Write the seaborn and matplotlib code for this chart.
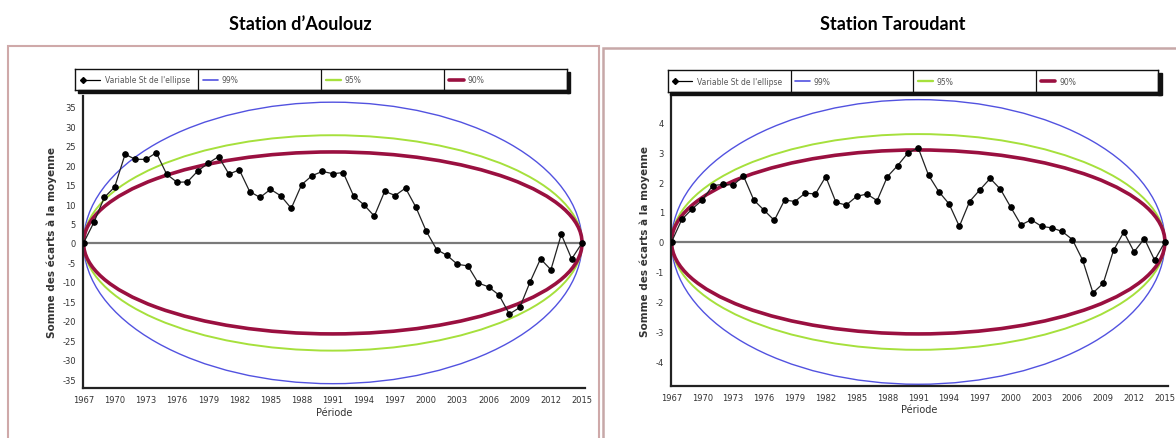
import numpy as np
import pandas as pd
import matplotlib
matplotlib.use("Agg")
import matplotlib.pyplot as plt
from matplotlib.patches import Ellipse, Rectangle
from matplotlib.lines import Line2D
import seaborn as sns

# -------------------- Data -------------------- #
years = list(range(1967, 2016))

# Somme des écarts à la moyenne (variable St de l'ellipse de Bois)
aoulouz = [0, 5.3, 11.7, 14.4, 22.8, 21.5, 21.5, 23.2, 17.7, 15.6,
           15.7, 18.5, 20.5, 22.2, 17.7, 18.8, 13.2, 11.7, 13.8, 12.1,
           8.9, 15.0, 17.3, 18.4, 17.8, 18.1, 12.1, 9.8, 6.9, 13.3,
           12.2, 14.1, 9.2, 3.0, -1.7, -3.2, -5.5, -5.9, -10.3, -11.3,
           -13.4, -18.3, -16.6, -10.0, -4.1, -6.9, 2.2, -4.1, 0]

taroudant = [0, 0.75, 1.1, 1.4, 1.88, 1.92, 1.9, 2.2, 1.4, 1.06,
             0.72, 1.4, 1.35, 1.63, 1.6, 2.18, 1.32, 1.23, 1.52, 1.6,
             1.38, 2.18, 2.55, 2.97, 3.14, 2.23, 1.68, 1.27, 0.52, 1.35,
             1.74, 2.12, 1.76, 1.16, 0.57, 0.74, 0.52, 0.47, 0.35, 0.08,
             -0.61, -1.7, -1.38, -0.28, 0.33, -0.33, 0.11, -0.61, 0]

# demi-axes des ellipses de contrôle (99%, 95%, 90%)
levels = ['99%', '95%', '90%']
aoulouz_semi = [36.2, 27.7, 23.4]
taroudant_semi = [4.75, 3.6, 3.07]

titles = ["Station d\u2019Aoulouz", "Station Taroudant"]
series_label = "Variable St de l'ellipse"

# -------------------- Style -------------------- #
sns.set_style("white")
plt.rcParams['font.family'] = ['DejaVu Sans']

level_colors = {'99%': '#5252e0', '95%': '#a6e03c', '90%': '#9a1040'}
level_widths = {'99%': 1.0, '95%': 1.4, '90%': 2.6}

fig = plt.figure(figsize=(11.76, 4.39), dpi=100)

# panel frames
fig.patches.append(Rectangle((0.007, -0.02), 0.502, 0.913, transform=fig.transFigure,
                             fill=False, edgecolor='#cfa9a9', lw=1.5))
fig.patches.append(Rectangle((0.513, -0.02), 0.495, 0.908, transform=fig.transFigure,
                             fill=False, edgecolor='#c7a8a8', lw=1.8))

fig.text(0.255, 0.945, titles[0], ha='center', va='center', fontsize=13,
         fontweight='bold', family='Lato', color='black')
fig.text(0.759, 0.945, titles[1], ha='center', va='center', fontsize=13,
         fontweight='bold', family='Lato', color='black')

panels = [
    dict(rect=[0.0706, 0.114, 0.427, 0.666], vals=aoulouz, semi=aoulouz_semi,
         ylim=(-37.3, 37.9), yticks=np.arange(-35, 36, 5),
         leg=[0.064, 0.792, 0.418, 0.048]),
    dict(rect=[0.5706, 0.119, 0.4226, 0.662], vals=taroudant, semi=taroudant_semi,
         ylim=(-4.8, 4.9), yticks=np.arange(-4, 5, 1),
         leg=[0.568, 0.788, 0.417, 0.050]),
]

center = (years[0] + years[-1]) / 2
span = years[-1] - years[0]

for p in panels:
    ax = fig.add_axes(p['rect'])
    df = pd.DataFrame({'Année': years, 'St': p['vals']})

    ax.axhline(0, color='#7a7a7a', lw=1.6, zorder=1)
    for lev, a in zip(levels, p['semi']):
        ax.add_patch(Ellipse((center, 0), width=span, height=2 * a, fill=False,
                             edgecolor=level_colors[lev], lw=level_widths[lev], zorder=2))

    sns.lineplot(data=df, x='Année', y='St', ax=ax, color='#222222', lw=0.9,
                 marker='o', markersize=4, markeredgecolor='black',
                 markerfacecolor='black', zorder=3)

    ax.set_xlim(years[0] - 0.05, years[-1] + 0.3)
    ax.set_ylim(*p['ylim'])
    ax.set_xticks(years[::3])
    ax.set_xticklabels([str(y) for y in years[::3]], fontsize=6, color='#333333')
    ax.set_yticks(p['yticks'])
    ax.set_yticklabels([str(v) for v in p['yticks']], fontsize=6, color='#333333')
    ax.tick_params(axis='both', length=3, width=0.8, pad=2, direction='out', color='#444444')
    ax.set_xlabel('Période', fontsize=7, color='#333333', labelpad=2)
    ax.set_ylabel('Somme des écarts à la moyenne', fontsize=7.5, fontweight='bold',
                  color='#333333', labelpad=4)
    sns.despine(ax=ax)
    for s in ['left', 'bottom']:
        ax.spines[s].set_linewidth(1.6)
        ax.spines[s].set_color('#222222')

    # legend box with four cells
    lax = fig.add_axes(p['leg'])
    lax.set_xlim(0, 4)
    lax.set_ylim(0, 1)
    lax.set_xticks([])
    lax.set_yticks([])
    for s in lax.spines.values():
        s.set_linewidth(1.0)
        s.set_color('#111111')
    # shadow on the bottom and right
    fig.patches.append(Rectangle((p['leg'][0] + 0.002, p['leg'][1] - 0.006), p['leg'][2], 0.006,
                                 transform=fig.transFigure, color='#111111'))
    fig.patches.append(Rectangle((p['leg'][0] + p['leg'][2], p['leg'][1] - 0.006), 0.003,
                                 p['leg'][3], transform=fig.transFigure, color='#111111'))
    for i in range(1, 4):
        lax.axvline(i, color='#111111', lw=0.9)
    lax.add_line(Line2D([0.06, 0.2], [0.5, 0.5], color='black', lw=0.9,
                        marker='D', markersize=3, markevery=[0]))
    lax.text(0.24, 0.5, series_label, fontsize=5.5, va='center', color='#555555')
    for i, lev in enumerate(levels, start=1):
        lax.add_line(Line2D([i + 0.04, i + 0.16], [0.5, 0.5], color=level_colors[lev],
                            lw=min(level_widths[lev] * 1.2, 2.6)))
        lax.text(i + 0.19, 0.5, lev, fontsize=5.5, va='center', color='#555555')

fig.savefig("out.png", dpi=100)
